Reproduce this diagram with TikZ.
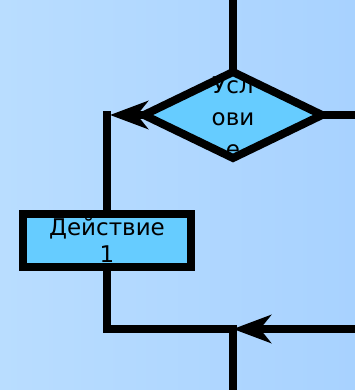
\documentclass[tikz,border=0pt]{standalone}
\usepackage{fontspec}
\setmainfont{DejaVu Sans}
\usetikzlibrary{shapes.geometric,arrows.meta}
\definecolor{bgL}{HTML}{B9DDFF}
\definecolor{bgR}{HTML}{A8D2FF}
\definecolor{boxfill}{HTML}{66CCFF}
\begin{document}
\begin{tikzpicture}[x=1pt,y=-1pt,
  flow/.style={draw=black, line width=8pt},
  tipstyle/.style={-{Stealth[length=38pt,width=28pt,inset=11pt]}},
  shapebox/.style={draw=black, fill=boxfill, line width=8pt, inner sep=0pt, outer sep=0pt},
  lbl/.style={font=\fontsize{23}{32}\selectfont, align=center, inner sep=0pt}]
\useasboundingbox (0,0) rectangle (355,390);
\shade[left color=bgL,right color=bgR] (0,0) rectangle (355,390);
% shapes
\node[shapebox, diamond, minimum width=178pt, minimum height=86pt] (d) at (233,115) {};
\node[lbl] (dt) at (233,117) {Усл\\ови\\е};
\node[shapebox, rectangle, minimum width=168pt, minimum height=53pt, font=\fontsize{23}{27}\selectfont, align=center] (r) at (107,240) {Действие\\1};
% coordinates
\coordinate (topin) at (233,0);
\coordinate (rightout) at (355,115);
\coordinate (tipL) at (110,115);
\coordinate (cL) at (107,111);
\coordinate (cB) at (107,329);
\coordinate (join) at (233,329);
\coordinate (rin) at (355,329);
\coordinate (bot) at (233,390);
% connectors
\draw[flow] (topin) -- (d.north);
\draw[flow] (d.east) -- (rightout);
\draw[flow, tipstyle] (d.west) -- (tipL);
\draw[flow] (cL) -- (r.north);
\draw[flow] (r.south) -- (cB) -- (join) -- (bot);
\draw[flow, tipstyle] (rin) -- (join);
\end{tikzpicture}
\end{document}
